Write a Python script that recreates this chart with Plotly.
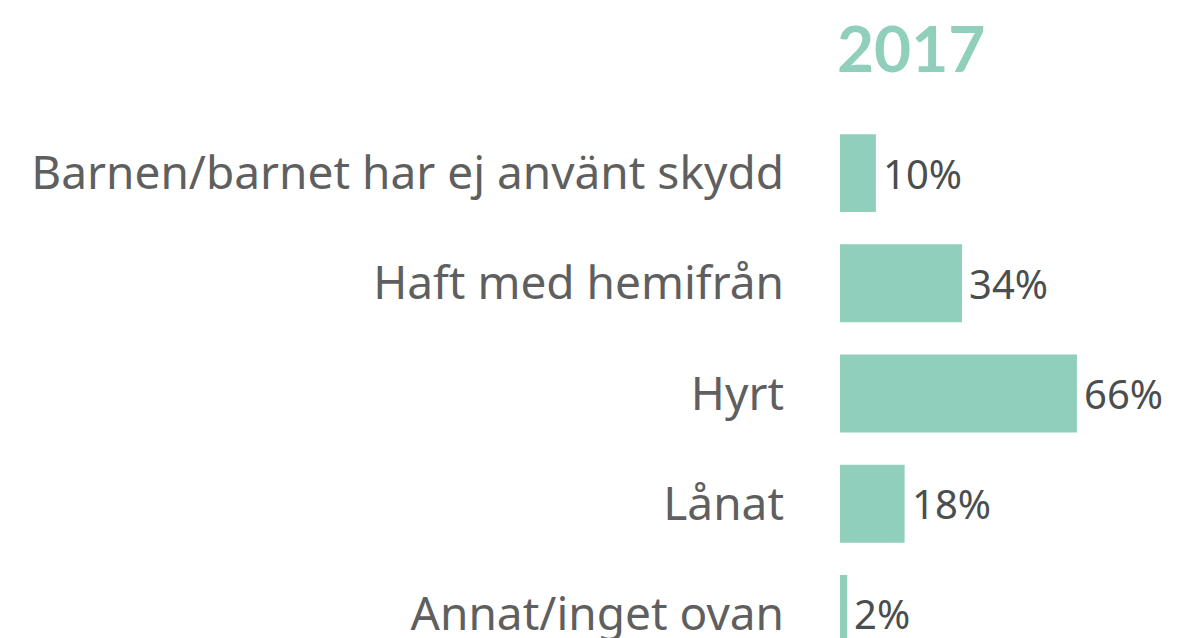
import plotly.graph_objects as go

categories = ["Barnen/barnet har ej använt skydd", "Haft med hemifrån", "Hyrt", "Lånat", "Annat/inget ovan"]
values = [10, 34, 66, 18, 2]
value_labels = ["10%", "34%", "66%", "18%", "2%"]
title_text = "2017"

BAR = "#90cfbb"
LABEL = "#5f5f5f"
VALUE = "#4a4e4e"
FONT = "Noto Sans"

# page body has an 8px margin, so the figure is placed 8px in from the top-left
W, H = 1170, 630
OFF = 8

fig = go.Figure(go.Bar(
    x=values, y=categories, orientation="h",
    marker=dict(color=BAR, line=dict(width=0)),
    width=0.707, hoverinfo="skip",
))

for c, v, t in zip(categories, values, value_labels):
    fig.add_annotation(x=v, y=c, text=t, showarrow=False, xanchor="left", yanchor="middle",
                       xshift=5, font=dict(family=FONT, size=40, color=VALUE))

fig.update_layout(
    width=W, height=H,
    margin=dict(l=840 - OFF, r=0, t=118 - OFF, b=0, autoexpand=False),
    paper_bgcolor="white", plot_bgcolor="white",
    showlegend=False,
    title=dict(text="<b>" + title_text + "</b>", x=(837 - OFF) / W, xanchor="left", xref="container",
               y=1 - (50 - OFF) / H, yanchor="middle", yref="container",
               font=dict(family="Lato", size=64, color=BAR)),
    xaxis=dict(range=[0, 338 / 3.59], visible=False, fixedrange=True, automargin=False),
    yaxis=dict(categoryorder="array", categoryarray=categories, range=[4.218, -0.5],
               showgrid=False, zeroline=False, showline=False, ticks="", automargin=False,
               ticklabelstandoff=55, tickfont=dict(family=FONT, size=46, color=LABEL)),
)

fig.write_html("out.html")
